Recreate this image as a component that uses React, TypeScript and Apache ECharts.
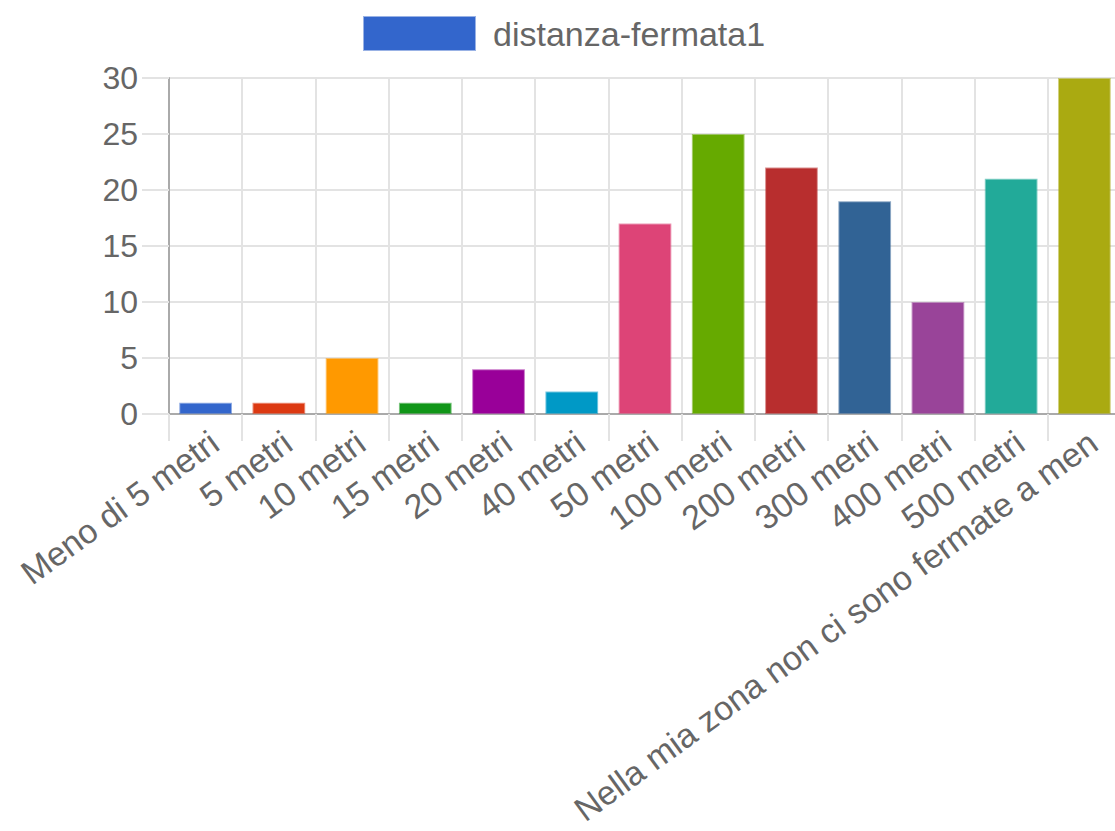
import React, { useEffect, useRef } from "react";
import * as echarts from "echarts";

const categories = [
  "Meno di 5 metri",
  "5 metri",
  "10 metri",
  "15 metri",
  "20 metri",
  "40 metri",
  "50 metri",
  "100 metri",
  "200 metri",
  "300 metri",
  "400 metri",
  "500 metri",
  "Nella mia zona non ci sono fermate a men",
];
const values = [1, 1, 5, 1, 4, 2, 17, 25, 22, 19, 10, 21, 30];
const colors = [
  "#3366CC", "#DC3912", "#FF9900", "#109618", "#990099", "#0099C6",
  "#DD4477", "#66AA00", "#B82E2E", "#316395", "#994499", "#22AA99", "#AAAA11",
];
const seriesName = "distanza-fermata1";

function withAlpha(hex: string, a: number) {
  const n = parseInt(hex.slice(1), 16);
  const r = (n >> 16) & 255, g = (n >> 8) & 255, b = n & 255;
  return `rgba(${r},${g},${b},${a})`;
}

const FONT = "'Liberation Sans', Arial, Helvetica, sans-serif";

export default function App() {
  const ref = useRef<HTMLDivElement>(null);
  useEffect(() => {
    if (!ref.current) return;
    const chart = echarts.init(ref.current, undefined, { renderer: "svg" });
    chart.setOption({
      animation: false,
      textStyle: { fontFamily: FONT },
      legend: {
        left: 358,
        top: 11,
        itemWidth: 111,
        itemHeight: 33,
        icon: "rect",
        itemStyle: { borderColor: withAlpha("#3366CC", 0.5), borderWidth: 2 },
        textStyle: { color: "#666", fontSize: 34, fontFamily: FONT, padding: [0, 0, 0, 13] },
        data: [seriesName],
      },
      grid: {
        left: 169,
        top: 78,
        bottom: 417,
        right: -6,
        containLabel: false,
        outerBoundsMode: "none",
      },
      xAxis: {
        type: "category",
        data: categories,
        boundaryGap: true,
        axisLine: { show: true, lineStyle: { color: "#aaa", width: 2 } },
        axisTick: { show: true, length: 27, lineStyle: { color: "#e3e3e3", width: 2 } },
        splitLine: { show: true, lineStyle: { color: "#e3e3e3", width: 2 } },
        axisLabel: {
          rotate: 36,
          interval: 0,
          margin: 31,
          padding: [0, -11, 0, 0],
          color: "#666",
          fontSize: 34,
          fontFamily: FONT,
        },
      },
      yAxis: {
        type: "value",
        min: 0,
        max: 30,
        interval: 5,
        axisLine: { show: true, lineStyle: { color: "#aaa", width: 2 } },
        axisTick: { show: true, length: 27, lineStyle: { color: "#e3e3e3", width: 2 } },
        splitLine: { show: true, lineStyle: { color: "#e3e3e3", width: 2 } },
        axisLabel: { margin: 31, color: "#666", fontSize: 32, fontFamily: FONT },
      },
      series: [
        {
          name: seriesName,
          type: "bar",
          barCategoryGap: "28%",
          itemStyle: { color: "#3366CC" },
          data: values.map((v, i) => ({
            value: v,
            itemStyle: {
              color: colors[i],
              borderColor: withAlpha(colors[i], 0.55),
              borderWidth: 2,
            },
          })),
        },
      ],
    });
    return () => chart.dispose();
  }, []);
  return (
    <div
      ref={ref}
      style={{ position: "fixed", left: 0, top: 0, width: 1115, height: 831, background: "#fff" }}
    />
  );
}
